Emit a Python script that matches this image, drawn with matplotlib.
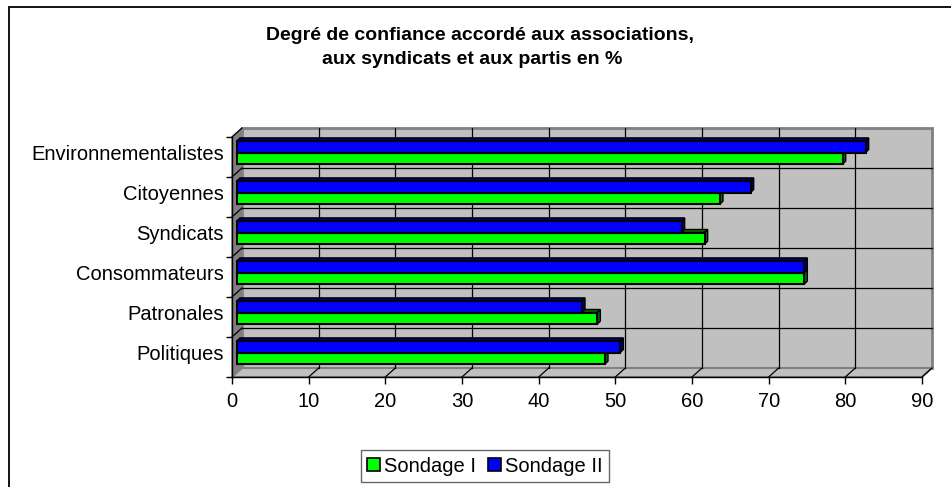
import numpy as np
import matplotlib
matplotlib.use("Agg")
import matplotlib.pyplot as plt
from matplotlib.patches import Rectangle, Polygon, Patch
from matplotlib.transforms import ScaledTranslation, offset_copy

plt.rcParams['font.family'] = ['Liberation Sans', 'DejaVu Sans']

# data, bottom to top
categories = ["Politiques", "Patronales", "Consommateurs", "Syndicats", "Citoyennes", "Environnementalistes"]
sondage1 = [48, 47, 74, 61, 63, 79]
sondage2 = [50, 45, 74, 58, 67, 82]
xticks = list(range(0, 91, 10))
title1 = "Degré de confiance accordé aux associations,"
title2 = "aux syndicats et aux partis en %"

W, H = 951, 487
fig = plt.figure(figsize=(W/100, H/100), dpi=100)
fig.patch.set_facecolor('white')

# outer chart border (right / bottom cut off)
fig.add_artist(Rectangle((9/W, -0.05), 1.0, 1 - 7/H + 0.05, transform=fig.transFigure,
                         fill=False, ec='black', lw=1.3))

# front plane of the 3d box
x0, x1, ytop, ybot = 232, 922, 137, 377
ax = fig.add_axes([x0/W, (H-ybot)/H, (x1-x0)/W, (ybot-ytop)/H])
xmax = xticks[-1]
n = len(categories)
ax.set_xlim(0, xmax)
ax.set_ylim(0, n)
ax.patch.set_visible(False)

# depth in pixels -> data units
DX, DY = 10, 9
ddx = DX * xmax / (x1-x0)
ddy = DY * n / (ybot-ytop)

wall = Rectangle((ddx, ddy), xmax, n, fc='#C0C0C0', ec='#808080', lw=2, clip_on=False, zorder=0)
ax.add_patch(wall)
side = Polygon([(0, 0), (0, n), (ddx, n+ddy), (ddx, ddy)], closed=True,
               fc='#808080', ec='#808080', lw=1, clip_on=False, zorder=0.5)
ax.add_patch(side)
floor = Polygon([(0, 0), (xmax, 0), (xmax+ddx, ddy), (ddx, ddy)], closed=True,
                fc='#C0C0C0', ec='#808080', lw=1.5, clip_on=False, zorder=0.5)
ax.add_patch(floor)

for t in xticks[1:-1]:
    ax.plot([t+ddx, t+ddx], [ddy, n+ddy], color='black', lw=0.9, clip_on=False, zorder=1)
for t in xticks[1:]:
    ax.plot([t, t+ddx], [0, ddy], color='black', lw=0.9, clip_on=False, zorder=1)
for k in range(1, n):
    ax.plot([ddx, xmax+ddx], [k+ddy, k+ddy], color='black', lw=0.9, clip_on=False, zorder=1)
for k in range(1, n+1):
    ax.plot([0, ddx], [k, k+ddy], color='black', lw=0.9, clip_on=False, zorder=1)

# bars sit at mid depth
trans = ax.transData + ScaledTranslation(5/100, 4.5/100, fig.dpi_scale_trans)
bh = 0.29
bdx = 3 * xmax / (x1-x0)
bdy = 3 * n / (ybot-ytop)
y = np.arange(n) + 0.5
series = [(sondage1, y - bh, '#00FF00', '#007000'), (sondage2, y, '#0000FF', '#000070')]
for vals, ys, col, dark in series:
    for v, yy in zip(vals, ys):
        top = Polygon([(0, yy+bh), (v, yy+bh), (v+bdx, yy+bh+bdy), (bdx, yy+bh+bdy)],
                      closed=True, fc=dark, ec='black', lw=1, transform=trans, clip_on=False, zorder=2)
        right = Polygon([(v, yy), (v+bdx, yy+bdy), (v+bdx, yy+bh+bdy), (v, yy+bh)],
                        closed=True, fc=dark, ec='black', lw=1, transform=trans, clip_on=False, zorder=2)
        ax.add_patch(top)
        ax.add_patch(right)
for vals, ys, col, dark in series:
    ax.barh(ys, vals, height=bh, align='edge', color=col, edgecolor='black', lw=1.5,
            transform=trans, clip_on=False, zorder=3)

# axes
for s in ['top', 'right']:
    ax.spines[s].set_visible(False)
for s in ['left', 'bottom']:
    ax.spines[s].set_color('black')
    ax.spines[s].set_linewidth(1)
ax.set_xticks(xticks)
ax.set_xticklabels([str(t) for t in xticks], fontsize=14.5)
ax.tick_params(axis='x', direction='out', length=5, width=1, pad=5.5)
ax.set_yticks(range(n+1))
ax.set_yticklabels([])
ax.tick_params(axis='y', direction='out', length=4, width=1)

lab_tr = offset_copy(ax.transData, fig=fig, x=-8, y=3, units='dots')
for c, yy in zip(categories, y):
    ax.text(0, yy, c, transform=lab_tr, ha='right', va='center', fontsize=14.5)

fig.text(480/W, 1-35/H, title1, ha='center', va='center', fontsize=14, fontweight='bold')
fig.text(472/W, 1-59/H, title2, ha='center', va='center', fontsize=14, fontweight='bold')

handles = [Patch(fc='#00FF00', ec='black', lw=1.2, label='Sondage I'),
           Patch(fc='#0000FF', ec='black', lw=1.2, label='Sondage II')]
leg = fig.legend(handles=handles, loc='center', bbox_to_anchor=(485/W, 1-466/H), ncol=2,
                 frameon=True, fancybox=False, fontsize=14.5, handlelength=0.65, handleheight=0.65,
                 handletextpad=0.2, columnspacing=0.6, borderpad=0.3, borderaxespad=0)
leg.get_frame().set_edgecolor('#404040')
leg.get_frame().set_linewidth(1)

fig.savefig('out.png', dpi=100)
